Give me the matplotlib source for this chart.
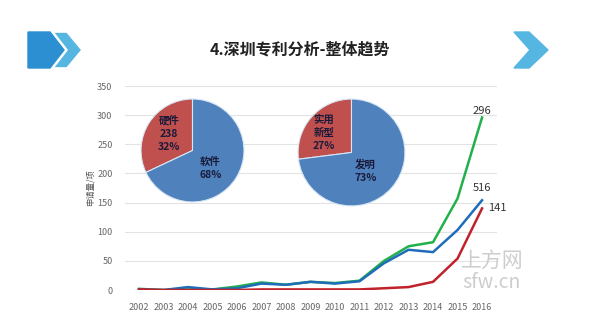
import matplotlib
matplotlib.use("Agg")
import matplotlib.pyplot as plt
from matplotlib.patches import Polygon

plt.rcParams['font.family'] = ['Noto Sans CJK SC', 'DejaVu Sans']

years = list(range(2002, 2017))
green = [2, 0, 1, 1, 6, 13, 9, 14, 12, 16, 50, 75, 82, 157, 296]
blue = [1, 0, 5, 1, 3, 11, 9, 14, 11, 15, 46, 69, 65, 103, 154]
red = [1, 0, 0, 0, 0, 1, 1, 1, 1, 1, 3, 5, 14, 54, 140]
end_labels = ["296", "516", "141"]

pie1_vals = [32, 68]
pie1_labels = ["硬件\n238\n32%", "软件\n68%"]
pie2_vals = [27, 73]
pie2_labels = ["实用\n新型\n27%", "发明\n73%"]

W, H = 600, 322
fig = plt.figure(figsize=(6, 3.22), dpi=100)
fig.patch.set_facecolor("white")

def px(x, y, w, h):
    return [x / W, 1 - (y + h) / H, w / W, h / H]

# title + chevrons
deco = fig.add_axes([0, 0, 1, 1])
deco.set_xlim(0, W)
deco.set_ylim(H, 0)
deco.axis("off")
deco.add_patch(Polygon([(28, 32), (50, 32), (64, 50), (50, 68), (28, 68)], color="#2b8fd2"))
deco.add_patch(Polygon([(53, 32), (67, 32), (82, 50), (67, 68), (53, 68), (67, 50)],
                       facecolor="#56b6e2", edgecolor="white", lw=1.2))
deco.add_patch(Polygon([(514, 32), (529, 32), (548, 50), (529, 68), (514, 68), (530, 50)], color="#56b6e2"))
deco.text(300, 50, "4.深圳专利分析-整体趋势", ha="center", va="center",
          fontsize=11.5, fontweight="bold", color="#222222")

ax = fig.add_axes(px(125, 86, 372, 204))
ax.patch.set_alpha(0)
ax.plot(years, green, color="#22b04b", lw=1.8)
ax.plot(years, blue, color="#1f6db8", lw=1.8)
ax.plot(years, red, color="#c0222a", lw=1.8)
ax.set_xlim(2001.43, 2016.61)
ax.set_ylim(0, 350)
ax.set_yticks(range(0, 351, 50))
ax.set_xticks(years)
ax.grid(axis="y", color="#e3e3e3", lw=0.8)
ax.set_axisbelow(True)
for s in ax.spines.values():
    s.set_visible(False)
ax.tick_params(length=0, labelsize=6.5, labelcolor="#666666", pad=9)
ax.set_ylabel("申请量/项", fontsize=6, color="#555555", labelpad=2)
ax.annotate(end_labels[0], (years[-1], green[-1]), xytext=(0, 5), textcoords="offset points",
            ha="center", va="center", fontsize=8, color="#333333")
ax.annotate(end_labels[1], (years[-1], blue[-1]), xytext=(0, 9), textcoords="offset points",
            ha="center", va="center", fontsize=8, color="#333333")
ax.annotate(end_labels[2], (years[-1], red[-1]), xytext=(11, 0), textcoords="offset points",
            ha="center", va="center", fontsize=8, color="#333333")

pie_colors = ["#c0504d", "#4f81bd"]

def draw_pie(rect, vals, labels, pos):
    pa = fig.add_axes(rect)
    pa.pie(vals, colors=pie_colors, startangle=90, counterclock=True, radius=1.0,
           wedgeprops=dict(edgecolor="#d6e6f4", linewidth=0.8))
    pa.set_xlim(-1.02, 1.02)
    pa.set_ylim(-1.02, 1.02)
    pa.set_aspect("equal")
    for lab, (lx, ly) in zip(labels, pos):
        pa.text(lx, ly, lab, ha="center", va="center", fontsize=7.5,
                color="#1a1a3a", fontweight="bold", linespacing=1.35)

draw_pie(px(140, 98, 105, 105), pie1_vals, pie1_labels, [(-0.46, 0.33), (0.35, -0.35)])
draw_pie(px(297, 98, 109, 109), pie2_vals, pie2_labels, [(-0.52, 0.37), (0.26, -0.35)])

# watermark on top
wm = fig.add_axes([0, 0, 1, 1])
wm.set_xlim(0, W)
wm.set_ylim(H, 0)
wm.axis("off")
wm.text(492, 261, "上方网", ha="center", va="center", fontsize=15, color="#c8c8c8", alpha=0.9)
wm.text(492, 282, "sfw.cn", ha="center", va="center", fontsize=14, color="#c8c8c8", alpha=0.9)

fig.savefig("out.png", dpi=100)
